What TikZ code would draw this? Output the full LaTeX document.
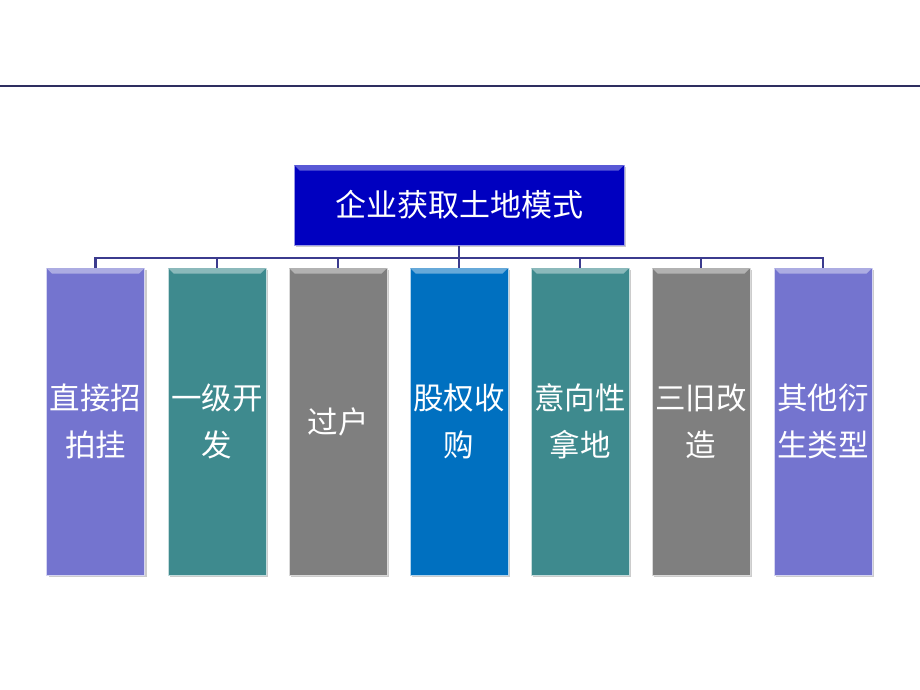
\documentclass[tikz,border=0pt]{standalone}
\usepackage{fontspec}
\newfontfamily\cjk{Noto Sans CJK SC}
\usetikzlibrary{shadows}
\definecolor{topblue}{HTML}{0000C0}
\definecolor{cpurple}{HTML}{7474CF}
\definecolor{cteal}{HTML}{3E8A8E}
\definecolor{cgray}{HTML}{7F7F7F}
\definecolor{cblue}{HTML}{0070C0}
\definecolor{linec}{HTML}{3B3B8E}
\definecolor{rulec}{HTML}{2E2E60}
\begin{document}
\begin{tikzpicture}[x=1pt,y=-1pt,
  catbox/.style={draw=white!70!#1, line width=1pt, fill=#1, minimum width=98pt, minimum height=307pt, inner sep=0pt,
     text=white, font=\cjk\fontsize{30.5}{47}\selectfont, align=center,
     drop shadow={shadow xshift=2pt, shadow yshift=-2pt, fill=black!40, opacity=0.5}},
  topbox/.style={draw=white!60!topblue, line width=1pt, fill=topblue, minimum width=330pt, minimum height=80pt,
     text=white, font=\cjk\fontsize{31}{34}\selectfont,
     drop shadow={shadow xshift=2pt, shadow yshift=-2pt, fill=black!40, opacity=0.5}},
  conn/.style={draw=linec, line width=2.3pt}]
\useasboundingbox (0,0) rectangle (920,690);
\draw[rulec, line width=1.3pt] (0,86) -- (920,86);
\node[topbox] (top) at (459,205) {企业获取土地模式};
\node[catbox=cpurple] (b1) at (95.5,421.5) {直接招\\拍挂};
\node[catbox=cteal] (b2) at (217,421.5) {一级开\\发};
\node[catbox=cgray] (b3) at (338,421.5) {过户};
\node[catbox=cblue] (b4) at (459,421.5) {股权收\\购};
\node[catbox=cteal] (b5) at (580,421.5) {意向性\\拿地};
\node[catbox=cgray] (b6) at (701,421.5) {三旧改\\造};
\node[catbox=cpurple] (b7) at (823,421.5) {其他衍\\生类型};
% bevel highlights
\foreach \n/\c in {b1/cpurple,b2/cteal,b3/cgray,b4/cblue,b5/cteal,b6/cgray,b7/cpurple}{
  \fill[white!40!\c] ([shift={(0.5,0.5)}]\n.north west) -- ([shift={(-0.5,0.5)}]\n.north east) -- ([shift={(-6,6)}]\n.north east) -- ([shift={(6,6)}]\n.north west) -- cycle;
}
\fill[white!35!topblue] ([shift={(0.5,0.5)}]top.north west) -- ([shift={(-0.5,0.5)}]top.north east) -- ([shift={(-6,6)}]top.north east) -- ([shift={(6,6)}]top.north west) -- cycle;
\coordinate (bus) at (459,258);
\draw[conn] (top.south) -- (bus);
\draw[conn] (b1.north) -- (b1.north |- bus) -- (b7.north |- bus) -- (b7.north);
\foreach \n in {b2,b3,b4,b5,b6}{\draw[conn] (\n.north) -- (\n.north |- bus);}
\end{tikzpicture}
\end{document}
